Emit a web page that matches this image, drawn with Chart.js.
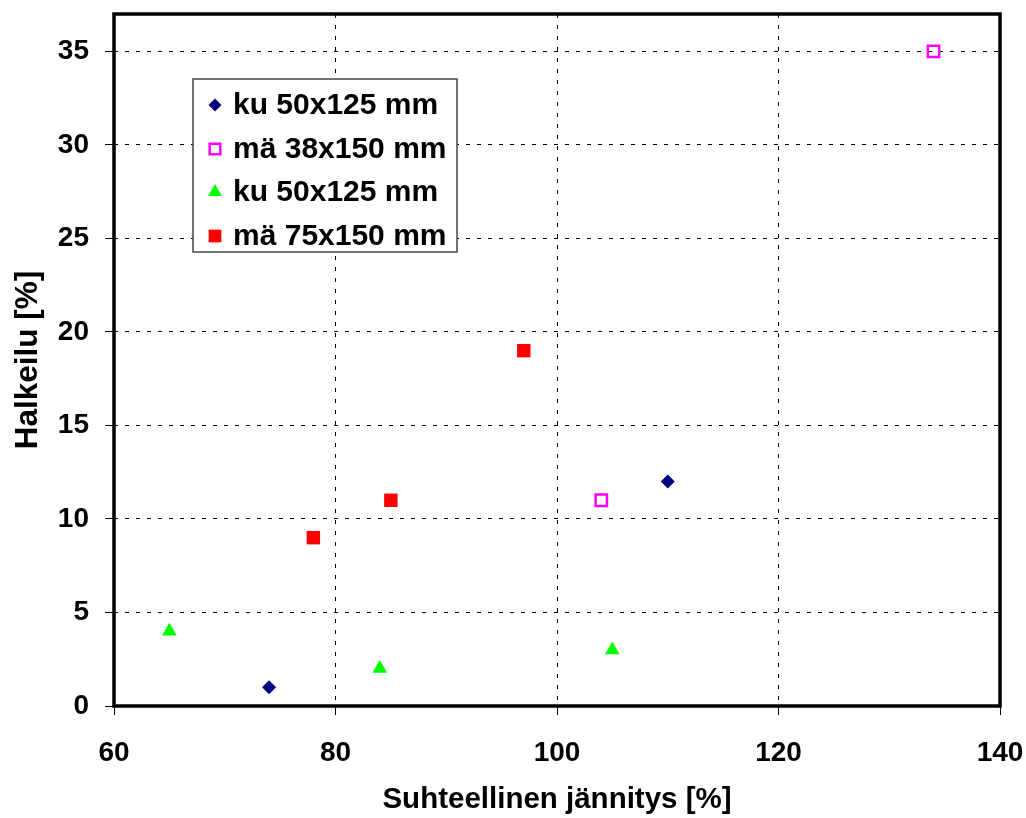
<!DOCTYPE html>
<html><head><meta charset="utf-8">
<script src="https://cdn.jsdelivr.net/npm/chart.js@4.4.1/dist/chart.umd.min.js"></script>
<style>html,body{margin:0;padding:0;background:#fff}#wrap{width:1026px;height:818px;position:relative}</style>
</head><body><div id="wrap"><canvas id="c" width="1026" height="818"></canvas></div>
<script>
const seriesNames = ['ku 50x125 mm', 'mä 38x150 mm', 'ku 50x125 mm', 'mä 75x150 mm'];
const kuA_x = [74, 110];
const kuA_y = [1, 12];
const ma38_x = [104, 134];
const ma38_y = [11, 35];
const kuB_x = [65, 84, 105];
const kuB_y = [4, 2, 3];
const ma75_x = [78, 85, 97];
const ma75_y = [9, 11, 19];
const xTicks = [60, 80, 100, 120, 140];
const yTicks = [0, 5, 10, 15, 20, 25, 30, 35];
const xTitle = 'Suhteellinen jännitys [%]';
const yTitle = 'Halkeilu [%]';

const FONT = "'Liberation Sans', Arial, sans-serif";
const pts = (xs, ys) => xs.map((x, i) => ({x: x, y: ys[i]}));

const datasets = [
  {label: seriesNames[0], data: pts(kuA_x, kuA_y), pointStyle: 'rectRot', pointRadius: 7,
   backgroundColor: '#000080', borderColor: '#000080', borderWidth: 0},
  {label: seriesNames[1], data: pts(ma38_x, ma38_y), pointStyle: 'rect', pointRadius: 8,
   backgroundColor: 'rgba(255,255,255,0)', borderColor: '#FF00FF', borderWidth: 2.5},
  {label: seriesNames[2], data: pts(kuB_x, kuB_y), pointStyle: 'triangle', pointRadius: 8.5,
   backgroundColor: '#00FF00', borderColor: '#00FF00', borderWidth: 0},
  {label: seriesNames[3], data: pts(ma75_x, ma75_y), pointStyle: 'rect', pointRadius: 9.5,
   backgroundColor: '#FF0000', borderColor: '#FF0000', borderWidth: 0}
];

const frame = {
  id: 'frame',
  beforeDatasetsDraw(chart) {
    const {ctx, chartArea: a} = chart;
    ctx.save();
    ctx.strokeStyle = '#000';
    ctx.lineWidth = 3.5;
    ctx.strokeRect(a.left, a.top, a.right - a.left, a.bottom - a.top);
    ctx.restore();
  }
};

const legendBox = {
  id: 'legendBox',
  afterDraw(chart) {
    const ctx = chart.ctx;
    const bx = 193, by = 79, bw = 264, bh = 173;
    ctx.save();
    ctx.fillStyle = '#fff';
    ctx.fillRect(bx, by, bw, bh);
    ctx.strokeStyle = '#444';
    ctx.lineWidth = 1.5;
    ctx.strokeRect(bx, by, bw, bh);
    const rowY = [105, 149, 192, 236];
    chart.data.datasets.forEach((ds, i) => {
      ctx.fillStyle = ds.backgroundColor;
      ctx.strokeStyle = ds.borderColor;
      ctx.lineWidth = ds.borderWidth;
      Chart.helpers.drawPoint(ctx, {pointStyle: ds.pointStyle, radius: ds.pointRadius - 0.5, rotation: 0, borderWidth: ds.borderWidth}, 215, rowY[i]);
      ctx.fillStyle = '#000';
      ctx.font = 'bold 30px ' + FONT;
      ctx.textBaseline = 'middle';
      ctx.textAlign = 'left';
      ctx.fillText(ds.label, 233, rowY[i] + 1);
    });
    ctx.restore();
  }
};

const noPad = s => { s.paddingTop = 0; s.paddingBottom = 0; s.paddingLeft = 0; s.paddingRight = 0; };

new Chart(document.getElementById('c'), {
  type: 'scatter',
  data: {datasets: datasets},
  options: {
    responsive: false,
    animation: false,
    devicePixelRatio: 1,
    layout: {autoPadding: false, padding: {top: 14, right: 26, left: 0, bottom: 0}},
    plugins: {legend: {display: false}, tooltip: {enabled: false}},
    scales: {
      x: {
        type: 'linear', position: 'bottom', min: 60, max: 140,
        afterBuildTicks: s => { s.ticks = xTicks.map(v => ({value: v})); },
        afterFit: s => { s.height = 112; noPad(s); },
        grid: {color: '#000', lineWidth: 1, drawTicks: true, tickLength: 9, tickColor: '#000', tickWidth: 1, tickBorderDash: []},
        border: {display: false, dash: [4, 7]},
        ticks: {color: '#000', padding: 21, font: {family: FONT, size: 28, weight: 'bold'}, maxRotation: 0},
        title: {display: true, text: xTitle, color: '#000', font: {family: FONT, size: 29.5, weight: 'bold'}, padding: {top: 0, bottom: 0}}
      },
      y: {
        type: 'linear', position: 'left', min: 0, max: 37,
        afterBuildTicks: s => { s.ticks = yTicks.map(v => ({value: v})); },
        afterFit: s => { s.width = 114; noPad(s); },
        grid: {color: '#000', lineWidth: 1, drawTicks: true, tickLength: 9, tickColor: '#000', tickWidth: 1, tickBorderDash: []},
        border: {display: false, dash: [4, 7]},
        ticks: {color: '#000', padding: 16, font: {family: FONT, size: 28, weight: 'bold'}},
        title: {display: true, text: yTitle, color: '#000', font: {family: FONT, size: 31.5, weight: 'bold'}, padding: {top: 9, bottom: 0}}
      }
    }
  },
  plugins: [frame, legendBox]
});
</script>
</body></html>
